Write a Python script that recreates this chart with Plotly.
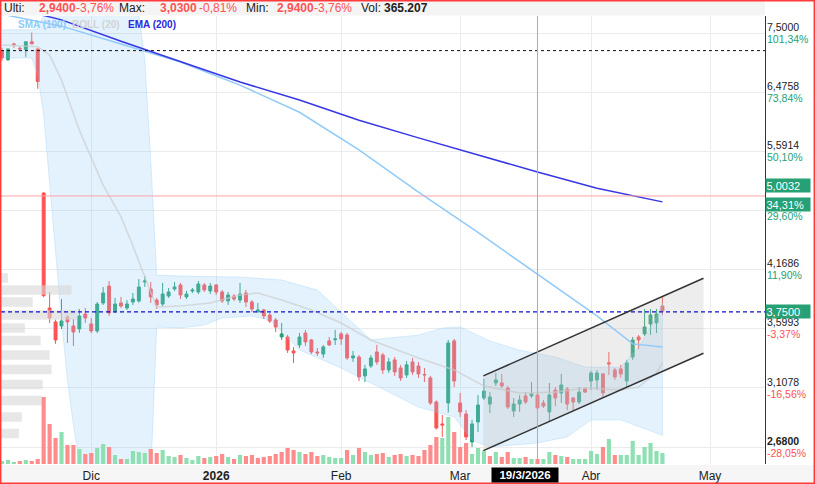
import math
import plotly.graph_objects as go

# ---------------- data ----------------
day_index = list(range(112))
open_ = [7.18, 7.02, 7.30, 7.22, 7.20, 7.34, 7.21, 5.04, 3.787, 3.658,
         3.622, 3.704, 3.622, 3.595, 3.731, 3.640, 3.577, 3.835, 4.000, 3.759,
         3.835, 3.787, 3.844, 3.854, 4.040, 3.971, 3.863, 3.825, 3.902, 3.971,
         4.010, 3.893, 3.950, 3.941, 4.010, 3.951, 4.010, 3.941, 3.854, 3.902,
         3.863, 3.931, 3.844, 3.750, 3.769, 3.722, 3.676, 3.524, 3.524, 3.404,
         3.455, 3.559, 3.498, 3.395, 3.378, 3.490, 3.500, 3.551, 3.542, 3.345,
         3.353, 3.199, 3.279, 3.395, 3.370, 3.247, 3.329, 3.263, 3.207, 3.312,
         3.279, 3.210, 3.183, 2.998, 2.839, 2.991, 3.490, 2.991, 2.910, 2.715,
         2.853, 3.028, 2.983, 3.144, 3.144, 3.104, 2.932, 2.983, 3.044, 3.044,
         3.051, 2.991, 2.925, 3.089, 3.066, 3.097, 3.028, 2.998, 3.097, 3.159,
         3.167, 3.215, 3.305, 3.247, 3.255, 3.159, 3.353, 3.524, 3.551, 3.640,
         3.649, 3.806]
high_ = [7.23, 7.22, 7.32, 7.25, 7.34, 7.51, 7.22, 5.05, 3.941, 3.680,
         3.873, 3.720, 3.685, 3.778, 3.787, 3.694, 3.844, 3.990, 4.050, 3.883,
         3.893, 3.863, 3.931, 4.070, 4.101, 4.040, 3.883, 4.030, 3.980, 4.040,
         4.030, 3.951, 3.980, 4.050, 4.030, 4.030, 4.020, 3.961, 3.941, 3.921,
         4.030, 3.961, 3.863, 3.835, 3.778, 3.741, 3.694, 3.649, 3.542, 3.438,
         3.559, 3.586, 3.507, 3.429, 3.455, 3.524, 3.586, 3.568, 3.559, 3.404,
         3.370, 3.288, 3.370, 3.455, 3.387, 3.345, 3.353, 3.288, 3.320, 3.345,
         3.312, 3.263, 3.199, 3.010, 2.903, 3.498, 3.507, 3.066, 2.939, 2.868,
         3.051, 3.175, 3.073, 3.222, 3.215, 3.120, 3.028, 3.051, 3.073, 3.151,
         3.066, 3.013, 3.144, 3.112, 3.215, 3.112, 3.036, 3.112, 3.112, 3.239,
         3.247, 3.222, 3.395, 3.263, 3.288, 3.329, 3.524, 3.542, 3.778, 3.778,
         3.778, 3.893]
low_ = [7.00, 7.00, 7.23, 7.18, 7.07, 7.30, 6.53, 3.890, 3.649, 3.464,
        3.595, 3.472, 3.446, 3.559, 3.649, 3.559, 3.559, 3.816, 3.713, 3.741,
        3.787, 3.769, 3.816, 3.835, 3.990, 3.835, 3.778, 3.806, 3.883, 3.951,
        3.873, 3.873, 3.930, 3.921, 3.941, 3.921, 3.912, 3.835, 3.816, 3.854,
        3.835, 3.797, 3.750, 3.745, 3.685, 3.649, 3.568, 3.498, 3.387, 3.304,
        3.429, 3.446, 3.378, 3.362, 3.345, 3.446, 3.455, 3.455, 3.329, 3.312,
        3.159, 3.151, 3.263, 3.288, 3.215, 3.223, 3.199, 3.159, 3.183, 3.207,
        3.183, 3.151, 2.976, 2.800, 2.749, 2.920, 3.112, 2.889, 2.728, 2.681,
        2.783, 3.013, 2.918, 3.120, 3.104, 2.946, 2.889, 2.925, 2.983, 3.028,
        2.946, 2.954, 2.853, 2.968, 2.991, 2.939, 2.939, 2.983, 3.066, 3.089,
        3.089, 3.036, 3.207, 3.167, 3.183, 3.112, 3.329, 3.421, 3.533, 3.542,
        3.559, 3.722]
close_ = [7.05, 7.21, 7.29, 7.21, 7.34, 7.30, 6.65, 3.905, 3.694, 3.498,
          3.667, 3.658, 3.568, 3.713, 3.694, 3.577, 3.825, 3.931, 3.741, 3.825,
          3.806, 3.825, 3.873, 3.990, 4.050, 3.893, 3.816, 3.921, 3.941, 3.990,
          3.912, 3.921, 3.960, 4.020, 3.961, 4.000, 3.941, 3.854, 3.912, 3.873,
          3.921, 3.844, 3.778, 3.769, 3.713, 3.667, 3.613, 3.551, 3.412, 3.387,
          3.524, 3.481, 3.395, 3.387, 3.438, 3.455, 3.507, 3.507, 3.345, 3.362,
          3.191, 3.255, 3.345, 3.312, 3.247, 3.312, 3.231, 3.183, 3.288, 3.231,
          3.215, 3.207, 2.991, 2.811, 2.832, 3.472, 3.159, 2.925, 2.749, 2.839,
          2.976, 3.081, 3.036, 3.167, 3.120, 2.961, 2.983, 3.013, 2.998, 3.059,
          2.954, 2.968, 3.051, 3.028, 3.128, 2.983, 2.998, 3.073, 3.073, 3.222,
          3.222, 3.066, 3.296, 3.191, 3.215, 3.304, 3.498, 3.498, 3.613, 3.722,
          3.731, 3.759]
volume_k = [99, 132, 66, 99, 132, 99, 165, 2211, 1320, 858,
            1056, 627, 627, 495, 330, 363, 528, 660, 561, 297,
            165, 165, 429, 396, 363, 495, 363, 462, 264, 231,
            297, 198, 132, 264, 198, 231, 264, 330, 231, 165,
            297, 264, 297, 198, 231, 264, 330, 396, 528, 462,
            396, 330, 396, 264, 297, 231, 198, 198, 462, 297,
            528, 396, 297, 330, 363, 231, 297, 330, 264, 297,
            264, 462, 627, 891, 858, 1551, 1056, 561, 693, 330,
            528, 429, 264, 396, 231, 396, 198, 198, 231, 165,
            165, 165, 396, 297, 264, 231, 165, 165, 165, 429,
            330, 561, 825, 297, 297, 297, 759, 297, 561, 693,
            429, 365]

sma100_idx = [0, 10, 20, 30, 40, 50, 60, 70, 80, 90, 100, 106, 111]
sma100_val = [7.86, 7.63, 7.30, 6.98, 6.59, 6.16, 5.61, 5.05, 4.57, 4.12, 3.713, 3.464, 3.438]
ema200_idx = [0, 10, 20, 30, 40, 50, 60, 70, 80, 90, 100, 111]
ema200_val = [8.04, 7.75, 7.35, 6.98, 6.64, 6.35, 6.04, 5.78, 5.54, 5.31, 5.10, 4.93]

boll_up_idx = [0, 5, 6, 7, 8, 12, 22, 23, 24, 25, 26, 30, 40, 43, 47, 53, 58, 62, 66, 70,
               74, 77, 82, 87, 93, 98, 104, 107, 110, 111]
boll_up_val = [7.56, 7.56, 7.59, 7.84, 8.56, 9.0, 9.0, 7.84, 7.01, 5.47, 4.11, 4.10, 4.09, 4.08,
               4.06, 3.96, 3.70, 3.50, 3.52, 3.54, 3.604, 3.613, 3.49, 3.41, 3.353, 3.27, 3.27,
               3.438, 3.70, 3.835]
boll_mid_idx = [0, 6, 8, 10, 13, 17, 20, 22, 24, 26, 30, 35, 40, 43, 47, 52, 57, 62, 70, 76,
                81, 87, 93, 98, 104, 107, 110, 111]
boll_mid_val = [7.28, 7.25, 7.10, 6.675, 5.89, 5.14, 4.75, 4.42, 4.09, 3.797, 3.806, 3.835,
                3.912, 3.931, 3.863, 3.769, 3.649, 3.498, 3.345, 3.247, 3.12, 3.066, 3.073,
                3.104, 3.089, 3.112, 3.222, 3.304]
boll_lo_idx = [0, 5, 6, 7, 8, 9, 10, 11, 12, 13, 14, 25, 26, 30, 34, 37, 42, 45, 50, 57, 62,
               70, 76, 79, 82, 90, 95, 99, 104, 110, 111]
boll_lo_val = [7.05, 7.05, 6.76, 6.12, 5.21, 4.37, 3.676, 3.167, 2.832, 2.596, 2.50, 2.50,
               3.613, 3.604, 3.63, 3.694, 3.713, 3.676, 3.412, 3.263, 3.144, 2.961, 2.889,
               2.728, 2.681, 2.708, 2.749, 2.868, 2.868, 2.775, 2.76]

profile_price = [4.08, 3.961, 3.844, 3.722, 3.604, 3.494, 3.370, 3.251, 3.132, 3.009, 2.889, 2.772]
profile_vol_k = [140, 1420, 640, 1540, 480, 800, 980, 1020, 840, 820, 420, 360]

channel_idx = [80.9, 117.9]
channel_upper = [3.199, 4.078]
channel_lower = [2.657, 3.384]

last_price = 3.75
cross_price = 5.0032
cross_idx = 90
ref_level = 7.18

month_idx = [15, 36, 57, 77, 99, 119]
month_txt = ["Dic", "<b>2026</b>", "Feb", "Mar", "Abr", "May"]

ytick_vals = [7.5, 6.4758, 5.5914, 4.8276, 4.1686, 3.5993, 3.1078, 2.68]
ytick_price_txt = ["7,5000", "6,4758", "5,5914", "", "4,1686", "3,5993", "3,1078", "<b>2,6800</b>"]
ytick_pct_txt = ["101,34%", "73,84%", "50,10%", "29,60%", "11,90%", "-3,37%", "-16,56%", "-28,05%"]

header_items = [("Ulti:", "lbl"), ("2,9400", "valr"), ("-3,76%", "pctr"),
                ("Max:", "lbl"), ("3,0300", "valr"), ("-0,81%", "pctr"),
                ("Min:", "lbl"), ("2,9400", "valr"), ("-3,76%", "pctr"),
                ("Vol:", "lbl"), ("365.207", "valk")]

# ---------------- style ----------------
W, H = 815, 484
ML, MR, MT, MB = 1, 50, 16, 20
PW, PH = W - ML - MR, H - MT - MB
FONT = "Liberation Sans, Arial, sans-serif"
GREEN = "#26a074"
RED = "#ff5252"
VGREEN = "#8ee0b2"
VRED = "#ff8c8c"
X0, X1 = -0.17, 128.24
YLO, YHI = 2.570, 7.825


def px2x(px):
    return (px - ML) / PW


def py2y(py):
    return (H - MB - py) / PH


fig = go.Figure()

# Bollinger band fill
fig.add_trace(go.Scatter(
    x=boll_up_idx + boll_lo_idx[::-1], y=boll_up_val + boll_lo_val[::-1],
    fill="toself", fillcolor="rgba(144,202,249,0.25)",
    line=dict(color="rgba(144,202,249,0.4)", width=0.8),
    mode="lines", hoverinfo="skip", showlegend=False))
fig.add_trace(go.Scatter(x=boll_mid_idx, y=boll_mid_val, mode="lines",
                         line=dict(color="rgba(205,205,205,0.7)", width=1.6),
                         hoverinfo="skip", showlegend=False))

# Volume profile (left side)
span = X1 - X0
pmax = max(profile_vol_k)
px_, py_ = [], []
for p, v in zip(profile_price, profile_vol_k):
    xe = X0 + v / pmax * 0.1 * span
    lo, hi = p / 1.0118, p * 1.0118
    px_ += [X0, xe, xe, X0, X0, None]
    py_ += [lo, lo, hi, hi, lo, None]
fig.add_trace(go.Scatter(x=px_, y=py_, fill="toself", fillcolor="rgba(215,215,215,0.6)",
                         line=dict(width=0), mode="lines", hoverinfo="skip", showlegend=False))

# Channel fill
fig.add_trace(go.Scatter(
    x=channel_idx + channel_idx[::-1], y=channel_upper + channel_lower[::-1],
    fill="toself", fillcolor="rgba(190,190,190,0.28)", line=dict(width=0),
    mode="lines", hoverinfo="skip", showlegend=False))

# Moving averages
fig.add_trace(go.Scatter(x=sma100_idx, y=sma100_val, mode="lines",
                         line=dict(color="#90caf9", width=1.5), hoverinfo="skip", showlegend=False))
fig.add_trace(go.Scatter(x=ema200_idx, y=ema200_val, mode="lines",
                         line=dict(color="#3636e4", width=1.5), hoverinfo="skip", showlegend=False))

# Horizontal levels
fig.add_trace(go.Scatter(x=[X0, X1], y=[ref_level, ref_level], mode="lines",
                         line=dict(color="#111", width=1, dash="dot"), hoverinfo="skip", showlegend=False))
fig.add_trace(go.Scatter(x=[X0, X1], y=[cross_price, cross_price], mode="lines",
                         line=dict(color="#ffa3a3", width=1), hoverinfo="skip", showlegend=False))
fig.add_trace(go.Scatter(x=[X0, X1], y=[last_price, last_price], mode="lines",
                         line=dict(color="#1010c8", width=1.2, dash="4px,3px"), hoverinfo="skip", showlegend=False))

# Channel lines
fig.add_trace(go.Scatter(x=channel_idx, y=channel_upper, mode="lines",
                         line=dict(color="#333", width=1.5), hoverinfo="skip", showlegend=False))
fig.add_trace(go.Scatter(x=channel_idx, y=channel_lower, mode="lines",
                         line=dict(color="#333", width=1.5), hoverinfo="skip", showlegend=False))

# Candles
fig.add_trace(go.Candlestick(
    x=day_index, open=open_, high=high_, low=low_, close=close_,
    increasing=dict(line=dict(color=GREEN, width=1), fillcolor=GREEN),
    decreasing=dict(line=dict(color=RED, width=1), fillcolor=RED),
    whiskerwidth=0, hoverinfo="skip", showlegend=False))

# Volume
vcol = [VGREEN if i == 0 or close_[i] >= close_[i - 1] else VRED for i in day_index]
fig.add_trace(go.Bar(x=day_index, y=volume_k, yaxis="y2", marker=dict(color=vcol, line=dict(width=0)),
                     width=0.7, hoverinfo="skip", showlegend=False))

# ---------------- layout ----------------
shapes = [
    dict(type="line", xref="x", yref="paper", x0=cross_idx, x1=cross_idx, y0=0, y1=1,
         line=dict(color="#ff8a8a", width=1), layer="above"),
    dict(type="rect", xref="paper", yref="paper", x0=px2x(0), x1=px2x(765), y0=py2y(15.5), y1=py2y(0),
         fillcolor="#f4f4f4", line=dict(width=0), layer="below"),
    dict(type="rect", xref="paper", yref="paper", x0=px2x(0), x1=px2x(815), y0=py2y(483), y1=py2y(465),
         fillcolor="#f6f6f6", line=dict(width=0), layer="below"),
    dict(type="rect", xref="paper", yref="paper", x0=px2x(0.7), x1=px2x(814.3), y0=py2y(483.3), y1=py2y(0.7),
         fillcolor="rgba(0,0,0,0)", line=dict(color="#ff3b3b", width=1.5), layer="above"),
]

ann = []
# right-hand price / percent labels (two lines per gridline)
for v, t, pc in zip(ytick_vals, ytick_price_txt, ytick_pct_txt):
    c = RED if pc.startswith("-") else GREEN
    if t:
        ann.append(dict(xref="paper", x=px2x(766), yref="y", y=math.log10(v), yshift=6, text=t,
                        showarrow=False, xanchor="left", yanchor="middle", borderpad=0,
                        font=dict(family=FONT, size=10.5, color="#222")))
    ann.append(dict(xref="paper", x=px2x(766), yref="y", y=math.log10(v), yshift=-6, text=pc,
                    showarrow=False, xanchor="left", yanchor="middle", borderpad=0,
                    font=dict(family=FONT, size=10.5, color=c)))

hx = [3, 38, 75, 118, 159, 198, 245, 276, 313, 360, 383]
for (txt, kind), x in zip(header_items, hx):
    if kind == "lbl":
        t, col = txt, "#222"
    elif kind == "valr":
        t, col = f"<b>{txt}</b>", RED
    elif kind == "pctr":
        t, col = txt, RED
    else:
        t, col = f"<b>{txt}</b>", "#222"
    ann.append(dict(xref="paper", yref="paper", x=px2x(x), y=py2y(8), text=t, showarrow=False,
                    xanchor="left", yanchor="middle", font=dict(family=FONT, size=12, color=col),
                    borderpad=0))

for txt, x, col in [("SMA (100)", 17, "#90caf9"), ("BOLL (20)", 71, "#d2d2d2"), ("EMA (200)", 127, "#2a2ae0")]:
    ann.append(dict(xref="paper", yref="paper", x=px2x(x), y=py2y(24), text=f"<b>{txt}</b>",
                    showarrow=False, xanchor="left", yanchor="middle",
                    font=dict(family=FONT, size=10, color=col), borderpad=0))

box_common = dict(xref="paper", x=px2x(765), xanchor="left", showarrow=False, bgcolor=GREEN,
                  font=dict(family=FONT, size=11, color="white"), align="left", width=43, borderpad=0.5)
ann.append(dict(yref="y", y=math.log10(last_price), text="3,7500", yanchor="middle", **box_common))
ann.append(dict(yref="y", y=math.log10(cross_price), text="5,0032", yanchor="bottom", yshift=3, **box_common))
ann.append(dict(yref="y", y=math.log10(cross_price), text="34,31%", yanchor="top", yshift=-1, **box_common))
ann.append(dict(xref="x", x=cross_idx, xshift=-12, yref="paper", y=py2y(474.5), text="<b>19/3/2026</b>",
                showarrow=False, bgcolor="#000", font=dict(family=FONT, size=11.5, color="white"),
                width=64, borderpad=1, xanchor="center", yanchor="middle"))

fig.update_layout(
    width=W, height=H, margin=dict(l=ML, r=MR, t=MT, b=MB),
    paper_bgcolor="white", plot_bgcolor="white", showlegend=False,
    font=dict(family=FONT, color="#222"),
    xaxis=dict(range=[X0, X1], tickmode="array", tickvals=month_idx, ticktext=month_txt,
               showgrid=True, gridcolor="#ebebeb", gridwidth=1, zeroline=False, showline=False,
               ticks="", tickfont=dict(size=12, color="#222"), rangeslider=dict(visible=False),
               ticklabelstandoff=3, fixedrange=True),
    yaxis=dict(type="log", range=[math.log10(YLO), math.log10(YHI)], side="right",
               tickmode="array", tickvals=ytick_vals, showticklabels=False,
               showgrid=True, gridcolor="#ebebeb", gridwidth=1, zeroline=False,
               showline=True, linecolor="#333", linewidth=1, ticks="", fixedrange=True),
    yaxis2=dict(overlaying="y", range=[0, PH * 33], visible=False, fixedrange=True),
    boxgap=0.3,
    shapes=shapes, annotations=ann,
)

fig.write_html("out.html")
